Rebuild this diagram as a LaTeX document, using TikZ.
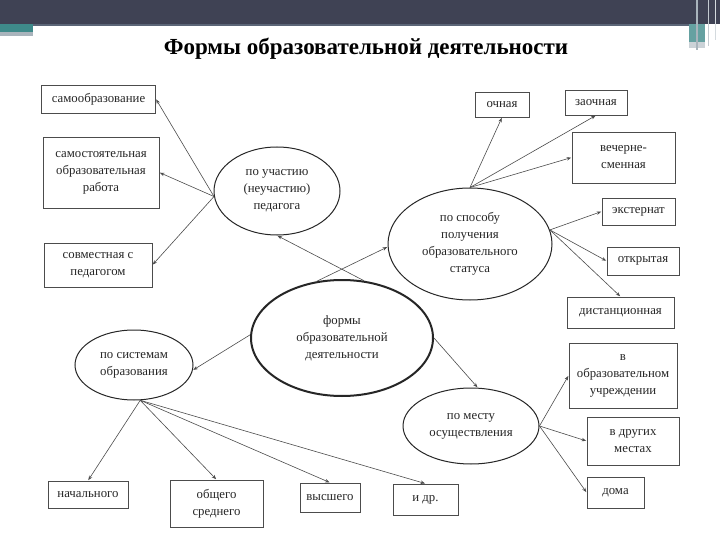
\documentclass[tikz,border=0pt]{standalone}
\usepackage{fontspec}
\setmainfont{Liberation Serif}
\usepackage{xcolor}
\usepackage{tikz}
\usetikzlibrary{arrows.meta,shapes.geometric}

\definecolor{hdrgray}{HTML}{3F4254}
\definecolor{hdrline}{HTML}{5B6577}
\definecolor{accteal}{HTML}{3E8A8A}
\definecolor{accgray}{HTML}{A9B4BC}

\begin{document}
\begin{tikzpicture}[
  x=1pt, y=-1pt,
  font=\fontsize{12.8}{17}\selectfont,
  >=Stealth,
  formbox/.style={draw=black!70, line width=0.8pt, inner sep=0pt, align=center, text=black!85},
  kindoval/.style={ellipse, draw=black!85, line width=1pt, inner sep=-4pt, align=center, text=black!85},
  mainoval/.style={kindoval, line width=2pt},
  flow/.style={->, line width=0.6pt, black!70, shorten >=0.5pt, >={Stealth[length=4.5pt,width=3.5pt]}}
]

\useasboundingbox (0,0) rectangle (720,540);
\fill[white] (0,0) rectangle (720,540);
\fill[hdrgray] (0,0) rectangle (720,24);
\fill[hdrline] (33,24) rectangle (689,26);
\fill[accteal] (0,24) rectangle (33,32);
\fill[accgray] (0,32) rectangle (33,36);
\fill[accteal!80] (689,24) rectangle (705,42);
\fill[accgray!60] (689,42) rectangle (705,48);
\draw[accgray, line width=1.5pt] (697,0) -- (697,50);
\draw[accgray!70, line width=1pt] (708,0) -- (708,46);
\draw[accgray!50, line width=1pt] (715,0) -- (715,40);

\node[font=\fontsize{23}{25}\selectfont\bfseries] (title) at (366,49) {Формы образовательной деятельности};

\node[mainoval, minimum width=182, minimum height=116] (formy) at (342,338) {формы\\образовательной\\деятельности};
\node[kindoval, minimum width=126, minimum height=88] (pedagog) at (277,191) {по участию\\(неучастию)\\педагога};
\node[kindoval, minimum width=164, minimum height=112] (sposob) at (470,244) {по способу\\получения\\образовательного\\статуса};
\node[kindoval, minimum width=136, minimum height=76] (mesto) at (471,426) {по месту\\осуществления};
\node[kindoval, minimum width=118, minimum height=70] (sistemy) at (134,365) {по системам\\образования};

\node[formbox, minimum width=114, minimum height=28] (samoobr) at (98.5,99) {самообразование};
\node[formbox, minimum width=116, minimum height=71] (samrab) at (101,172.5) {самостоятельная\\образовательная\\работа};
\node[formbox, minimum width=108, minimum height=44] (sovmest) at (98,265) {совместная с\\педагогом};

\node[formbox, minimum width=54, minimum height=25] (ochnaya) at (502,104.5) {очная};
\node[formbox, minimum width=62, minimum height=25] (zaochnaya) at (596,102.5) {заочная};
\node[formbox, minimum width=103, minimum height=51] (vecher) at (623.5,157.5) {вечерне-\\сменная};
\node[formbox, minimum width=73, minimum height=27] (eksternat) at (638.5,211.5) {экстернат};
\node[formbox, minimum width=72, minimum height=28] (otkryt) at (643,261) {открытая};
\node[formbox, minimum width=107, minimum height=31] (distant) at (620.5,312.5) {дистанционная};

\node[formbox, minimum width=108, minimum height=65] (uchrezhd) at (623,375.5) {в\\образовательном\\учреждении};
\node[formbox, minimum width=92, minimum height=48] (drugie) at (633,441) {в других\\местах};
\node[formbox, minimum width=57, minimum height=31] (doma) at (615.5,492.5) {дома};

\node[formbox, minimum width=80, minimum height=27] (nachal) at (88,494.5) {начального};
\node[formbox, minimum width=93, minimum height=47] (obshch) at (216.5,503.5) {общего\\среднего};
\node[formbox, minimum width=60, minimum height=29] (vyssh) at (330,497.5) {высшего};
\node[formbox, minimum width=65, minimum height=31] (idr) at (425.5,499.5) {и др.};

\draw[flow] (formy.69) -- (pedagog.south);
\draw[flow] (formy.114) -- (sposob.182);
\draw[flow] (formy.178) -- (sistemy.-5);
\draw[flow] (formy.east) -- (mesto.80);

\draw[flow] (pedagog.185) -- (samoobr.east);
\draw[flow] (pedagog.185) -- (samrab.east);
\draw[flow] (pedagog.185) -- (sovmest.east);

\draw[flow] (sposob.north) -- (ochnaya.south);
\draw[flow] (sposob.north) -- (zaochnaya.south);
\draw[flow] (sposob.north) -- (vecher.west);
\draw[flow] (sposob.10) -- (eksternat.west);
\draw[flow] (sposob.10) -- (otkryt.west);
\draw[flow] (sposob.10) -- (distant.north);

\draw[flow] (mesto.east) -- (uchrezhd.west);
\draw[flow] (mesto.east) -- (drugie.west);
\draw[flow] (mesto.east) -- (doma.west);

\draw[flow] (sistemy.-80) -- (nachal.north);
\draw[flow] (sistemy.-80) -- (obshch.north);
\draw[flow] (sistemy.-80) -- (vyssh.north);
\draw[flow] (sistemy.-80) -- (idr.north);

\end{tikzpicture}
\end{document}
